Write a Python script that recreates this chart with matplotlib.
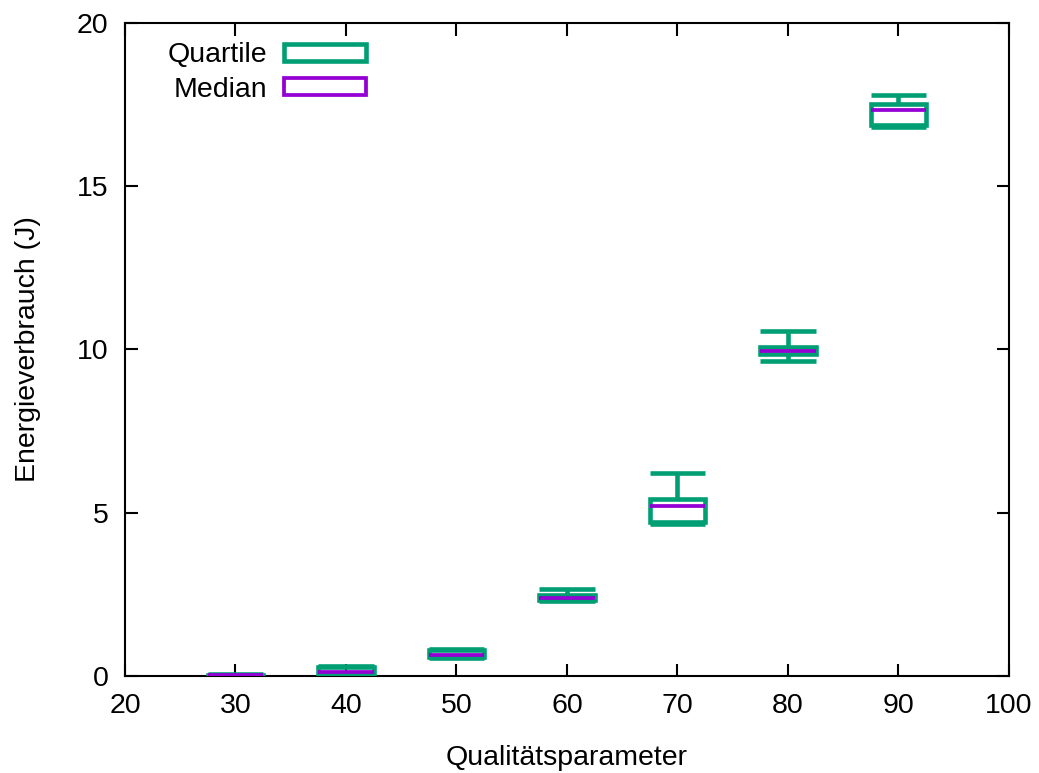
import matplotlib
matplotlib.use("Agg")
import matplotlib.pyplot as plt
from matplotlib.patches import Patch

plt.rcParams['font.family'] = ['Liberation Sans', 'DejaVu Sans']

# Qualitätsparameter and energy values (J)
quality = [30, 40, 50, 60, 70, 80, 90]
whisker_min = [0.01, 0.03, 0.56, 2.31, 4.66, 9.64, 16.82]
q1 = [0.01, 0.05, 0.58, 2.33, 4.73, 9.85, 16.88]
median = [0.02, 0.13, 0.64, 2.39, 5.21, 9.94, 17.33]
q3 = [0.04, 0.29, 0.79, 2.47, 5.42, 10.08, 17.53]
whisker_max = [0.05, 0.31, 0.82, 2.66, 6.22, 10.56, 17.78]

green = '#009E73'
purple = '#9400D3'
box_w = 5
fs = 20.5

fig = plt.figure(figsize=(10.39, 7.73), dpi=100)
ax = fig.add_axes([0.1203, 0.1255, 0.8508, 0.8448])

heights = [b - a for a, b in zip(q1, q3)]
ax.bar(quality, heights, bottom=q1, width=box_w, fill=False,
       edgecolor=green, linewidth=3.3, zorder=3)
ax.vlines(quality, q3, whisker_max, color=green, linewidth=3.3, zorder=3)
ax.vlines(quality, whisker_min, q1, color=green, linewidth=3.3, zorder=3)
xl = [x - box_w / 2 for x in quality]
xr = [x + box_w / 2 for x in quality]
ax.hlines(whisker_max, xl, xr, color=green, linewidth=3.3, zorder=3)
ax.hlines(whisker_min, xl, xr, color=green, linewidth=3.3, zorder=3)
ax.hlines(median, xl, xr, color=purple, linewidth=2.7, zorder=4)

ax.set_xlim(20, 100)
ax.set_ylim(0, 20)
ax.set_xticks(range(20, 101, 10))
ax.set_yticks(range(0, 21, 5))
ax.tick_params(direction='in', length=9, width=1.5, top=True, right=True,
               labelsize=fs)
ax.tick_params(axis='y', pad=12)
ax.tick_params(axis='x', pad=12)
for s in ax.spines.values():
    s.set_linewidth(1.5)

ax.set_xlabel('Qualitätsparameter', fontsize=fs, labelpad=19)
ax.set_ylabel('Energieverbrauch (J)', fontsize=fs, labelpad=26)

handles = [Patch(facecolor='none', edgecolor=green, linewidth=3.3),
           Patch(facecolor='none', edgecolor=purple, linewidth=2.7)]
ax.legend(handles, ['Quartile', 'Median'], loc='upper right',
          bbox_to_anchor=(0.2945, 1.0), markerfirst=False, frameon=False,
          fontsize=fs, handlelength=2.87, handleheight=0.55,
          handletextpad=0.6, labelspacing=0.29, borderaxespad=0.38,
          borderpad=0.3)

fig.savefig('out.png', dpi=100)
